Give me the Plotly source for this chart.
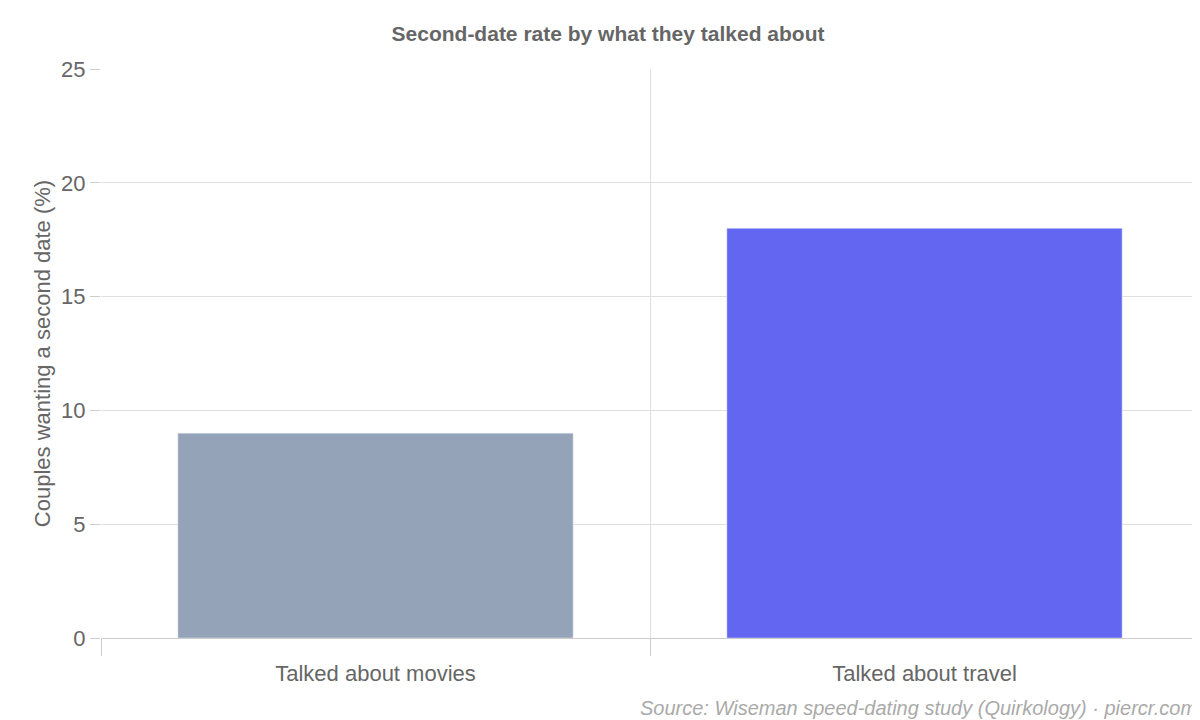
import plotly.graph_objects as go

categories = ["Talked about movies", "Talked about travel"]
values = [9, 18]
colors = ["#94a3b8", "#6366f1"]

fig = go.Figure(go.Bar(x=categories, y=values, marker_color=colors, width=0.72,
                       hoverinfo="x+y"))

fig.update_layout(
    width=1200, height=720,
    margin=dict(l=93, r=9, t=61, b=90),
    plot_bgcolor="white", paper_bgcolor="white",
    font=dict(family="Liberation Sans, Arial, sans-serif", color="#666666"),
    title=dict(text="<b>Second-date rate by what they talked about</b>",
               x=0.5, xanchor="center", y=0.965, yanchor="middle",
               font=dict(size=21, color="#666666")),
    showlegend=False,
)
fig.update_xaxes(
    tickson="boundaries", showgrid=True, gridcolor="#e0e0e0",
    ticks="outside", ticklen=17, tickcolor="#cccccc",
    showline=True, linecolor="#cccccc", ticklabelstandoff=16,
    tickfont=dict(size=22, color="#666666"),
)
fig.update_yaxes(
    range=[0, 25], dtick=5, showgrid=True, gridcolor="#e0e0e0",
    ticks="outside", ticklen=10, tickcolor="#cccccc", zeroline=False,
    tickfont=dict(size=22, color="#666666"),
    title=dict(text="Couples wanting a second date (%)", font=dict(size=22, color="#666666"),
               standoff=4),
)
fig.add_annotation(
    text="<i>Source: Wiseman speed-dating study (Quirkology) · piercr.com</i>",
    xref="paper", yref="paper", x=1.0, y=-0.123, xanchor="right", yanchor="middle",
    showarrow=False, font=dict(size=20, color="#aaaaaa"),
)

fig.write_html("out.html")
